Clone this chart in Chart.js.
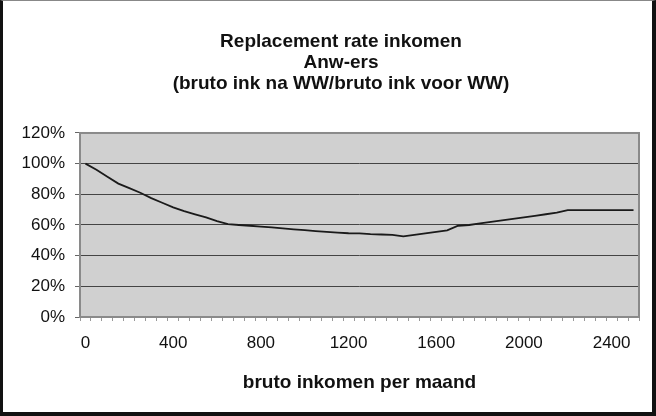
<!DOCTYPE html>
<html>
<head>
<meta charset="utf-8">
<script src="https://cdn.jsdelivr.net/npm/chart.js@4/dist/chart.umd.min.js"></script>
<style>
html, body { margin: 0; padding: 0; background: #fff; }
#frame {
  width: 656px; height: 416px; box-sizing: border-box;
  border-left: 3px solid #111; border-top: 1px solid #888;
  border-right: 4px solid #111; border-bottom: 4px solid #111;
  background: #fff;
}
#chart { display: block; }
</style>
</head>
<body>
<div id="frame"><canvas id="chart" width="649" height="411"></canvas></div>
<script>
// bruto inkomen per maand (categorieën)
const incomes = [0, 50, 100, 150, 200, 250, 300, 350, 400, 450, 500, 550, 600, 650, 700, 750, 800, 850, 900, 950,
  1000, 1050, 1100, 1150, 1200, 1250, 1300, 1350, 1400, 1450, 1500, 1550, 1600, 1650, 1700, 1750, 1800, 1850, 1900, 1950,
  2000, 2050, 2100, 2150, 2200, 2250, 2300, 2350, 2400, 2450, 2500];

// replacement rate (bruto ink na WW / bruto ink voor WW)
const rates = [1.00, 0.96, 0.915, 0.87, 0.84, 0.81, 0.775, 0.745, 0.715, 0.69, 0.67, 0.65, 0.625, 0.605, 0.60, 0.595, 0.59, 0.585, 0.578, 0.572,
  0.566, 0.56, 0.555, 0.55, 0.546, 0.545, 0.54, 0.538, 0.535, 0.526, 0.535, 0.545, 0.555, 0.565, 0.595, 0.60, 0.61, 0.62, 0.63, 0.64,
  0.65, 0.66, 0.67, 0.68, 0.697, 0.697, 0.697, 0.697, 0.697, 0.697, 0.697];

const titleLines = ['Replacement rate inkomen', 'Anw-ers', '(bruto ink na WW/bruto ink voor WW)'];
const xTitle = 'bruto inkomen per maand';
const yTicks = [0, 0.2, 0.4, 0.6, 0.8, 1.0, 1.2];

const FONT = "'Liberation Sans', Arial, sans-serif";

// grijze achtergrond van het plotgebied
const plotBg = {
  id: 'plotBg',
  afterLayout(chart) {
    // titel iets naar rechts, zoals in Excel
    if (chart.titleBlock) {
      chart.titleBlock.left += 20;
      chart.titleBlock.right += 20;
    }
  },
  beforeDraw(chart) {
    const { ctx, chartArea: a } = chart;
    ctx.save();
    ctx.fillStyle = '#d0d0d0';
    ctx.fillRect(a.left, a.top, a.right - a.left, a.bottom - a.top);
    ctx.restore();
  },
  afterDatasetsDraw(chart) {
    const { ctx, chartArea: a } = chart;
    ctx.save();
    ctx.strokeStyle = '#8a8a8a';
    ctx.lineWidth = 2;
    ctx.strokeRect(a.left, a.top, a.right - a.left, a.bottom - a.top);
    ctx.restore();
  }
};

new Chart(document.getElementById('chart'), {
  type: 'line',
  data: {
    labels: incomes,
    datasets: [{
      data: rates,
      borderColor: '#1a1a1a',
      borderWidth: 1.8,
      pointRadius: 0,
      tension: 0,
      fill: false
    }]
  },
  plugins: [plotBg],
  options: {
    responsive: false,
    animation: false,
    layout: { padding: { left: 0, right: 13, top: 0, bottom: 0 } },
    plugins: {
      legend: { display: false },
      tooltip: { enabled: false },
      title: {
        display: true,
        text: titleLines,
        color: '#111',
        font: { family: FONT, size: 19, weight: 'bold', lineHeight: 1.105 },
        padding: { top: 30, bottom: 39 }
      }
    },
    scales: {
      x: {
        type: 'category',
        offset: true,
        afterFit(scale) { scale.height = 95; },
        grid: {
          offset: true,
          drawOnChartArea: false,
          drawTicks: true,
          tickLength: 4,
          color: '#999'
        },
        border: { display: false },
        ticks: {
          autoSkip: false,
          maxRotation: 0,
          padding: 12,
          color: '#111',
          font: { family: FONT, size: 17 },
          callback: function (value, index) {
            return index % 8 === 0 ? String(incomes[index]) : '';
          }
        },
        title: {
          display: true,
          text: xTitle,
          color: '#111',
          font: { family: FONT, size: 19, weight: 'bold' },
          padding: { top: 0, bottom: 18 }
        }
      },
      y: {
        min: 0,
        max: 1.2,
        afterFit(scale) { scale.width = 77; },
        afterBuildTicks(scale) { scale.ticks = yTicks.map(v => ({ value: v })); },
        grid: {
          color: ctx => (ctx.tick && (ctx.tick.value === 0 || ctx.tick.value === 1.2)) ? '#8a8a8a' : '#444',
          tickColor: '#666',
          lineWidth: 1,
          tickLength: 5
        },
        border: { display: false },
        ticks: {
          padding: 10,
          color: '#111',
          font: { family: FONT, size: 17 },
          callback: function (value) {
            return Math.round(value * 100) + '%';
          }
        }
      }
    }
  }
});
</script>
</body>
</html>
